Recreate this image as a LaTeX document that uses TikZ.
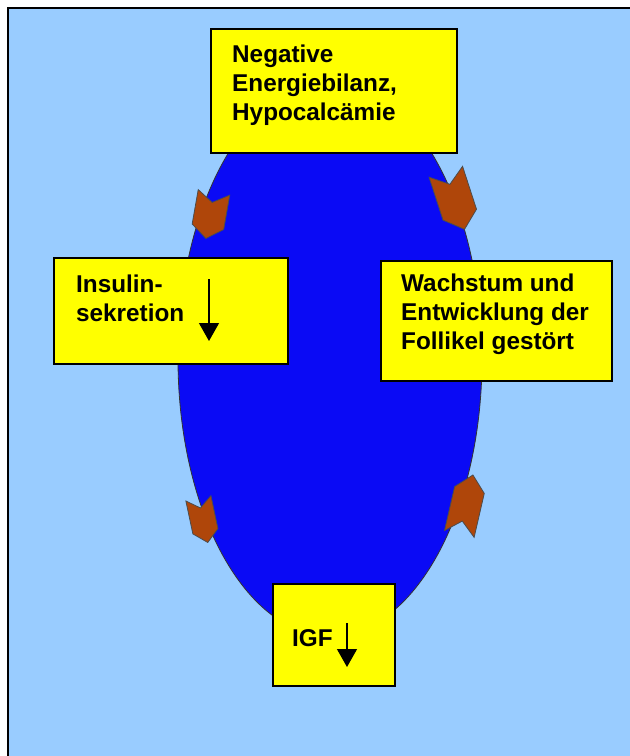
\documentclass[tikz,border=0pt]{standalone}
\usepackage{fontspec}
\setmainfont{Liberation Sans}
\usetikzlibrary{arrows.meta}
\definecolor{bgblue}{RGB}{153,204,255}
\definecolor{ovalblue}{RGB}{10,10,245}
\definecolor{boxyellow}{RGB}{255,255,0}
\definecolor{chevbrown}{RGB}{175,70,10}
\begin{document}
\begin{tikzpicture}[x=1pt,y=-1pt,
  box/.style={draw=black,line width=1.5pt,fill=boxyellow,inner sep=0pt,anchor=north west},
  boxtext/.style={font=\bfseries\fontsize{24.3}{29}\selectfont,align=left,inner sep=0pt,anchor=north west},
  downarrow/.style={line width=1.3pt,-{Triangle[width=20pt,length=18pt]}},
  chevron/.style={fill=chevbrown,draw=black!70,line width=0.8pt},
  chev/.pic={\path[chevron] (-16,-27) -- (0,-15) -- (16,-27) -- (16,14) -- (0,28) -- (-16,14) -- cycle;}]
\useasboundingbox (0,0) rectangle (630,756);
\clip (0,0) rectangle (630,756);
\fill[white] (0,0) rectangle (630,756);
\draw[line width=1.5pt,fill=bgblue] (8,8) rectangle (660,790);
% oval
\draw[fill=ovalblue,draw=black!80,line width=0.8pt] (330,359) ellipse [x radius=152, y radius=277];
% chevrons
\pic[rotate=-10,yscale=0.85] (c1) at (210,215) {chev};
\pic[rotate=18,xscale=1.1,yscale=1.1] (c2) at (455,200) {chev};
\pic[rotate=12,xscale=0.8,yscale=0.82] (c3) at (203,520) {chev};
\pic[rotate=167,xscale=0.95,yscale=1.1] (c4) at (466,505) {chev};
% boxes
\node[box,minimum width=246pt,minimum height=124pt] (topbox) at (210,28) {};
\node[box,minimum width=234pt,minimum height=106pt] (insbox) at (53,257) {};
\node[box,minimum width=231pt,minimum height=120pt] (wachbox) at (380,260) {};
\node[box,minimum width=122pt,minimum height=102pt] (igfbox) at (272,583) {};
% texts
\node[boxtext] (toptext) at (232,45) {Negative\\Energiebilanz,\\Hypocalcämie};
\node[boxtext] (instext) at (76,275) {Insulin-\\sekretion};
\node[boxtext] (wachtext) at (401,274) {Wachstum und\\Entwicklung der\\Follikel gestört};
\node[boxtext] (igftext) at (292,629) {IGF};
% down arrows
\coordinate (ia1) at (209,279);
\coordinate (ia2) at (209,341);
\draw[downarrow] (ia1) -- (ia2);
\coordinate (ga1) at (347,623);
\coordinate (ga2) at (347,667);
\draw[downarrow] (ga1) -- (ga2);
\end{tikzpicture}
\end{document}
